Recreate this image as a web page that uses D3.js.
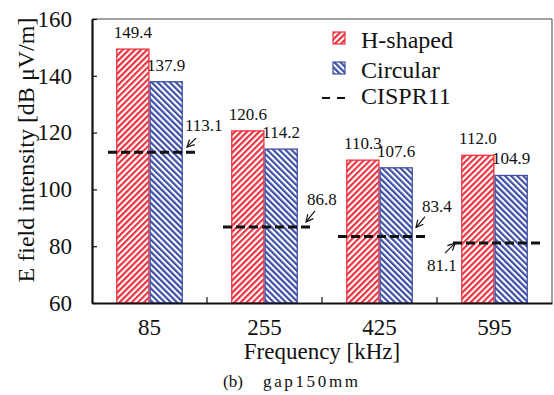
<!DOCTYPE html>
<html>
<head>
<meta charset="utf-8">
<script src="https://cdn.jsdelivr.net/npm/d3@7"></script>
<style>
  body { margin: 0; background: #fff; }
  svg text { font-family: "Liberation Serif", Tinos, "Times New Roman", Times, "DejaVu Serif", serif; fill: #111; }
</style>
</head>
<body>
<div id="chart"></div>
<script>
// --- Data ---
const frequencies = ["85", "255", "425", "595"];
const seriesNames = ["H-shaped", "Circular"];
const hShaped = [149.4, 120.6, 110.3, 112.0];
const circular = [137.9, 114.2, 107.6, 104.9];
const cispr11 = [113.1, 86.8, 83.4, 81.1];
const yTicks = [60, 80, 100, 120, 140, 160];

// --- Layout ---
const W = 554, H = 395;
const plot = { left: 92, right: 552, top: 19, bottom: 303 };
const red = "#ea3340";
const blue = "#3d4ea3";

// where each CISPR value label + arrow sits, relative to the line end it points at
const notes = [
  { end: "x2", hx: -10, hy: -5, tx: -1, ty: -14, lx: -12, ly: -21 },
  { end: "x2", hx: -6, hy: -5, tx: 3, ty: -16, lx: -5, ly: -22 },
  { end: "x2", hx: -11, hy: -9, tx: -2, ty: -20, lx: -5, ly: -25 },
  { end: "x1", hx: 2, hy: 0, tx: -8, ty: 10, lx: -26, ly: 28 }
];

const svg = d3.select("#chart").append("svg")
  .attr("width", W)
  .attr("height", H);

const defs = svg.append("defs");

// diagonal hatch patterns for the two bar series
function hatch(id, color, angle) {
  const p = defs.append("pattern")
    .attr("id", id)
    .attr("patternUnits", "userSpaceOnUse")
    .attr("width", 4.3)
    .attr("height", 10)
    .attr("patternTransform", `rotate(${angle})`);
  p.append("rect").attr("width", 4.3).attr("height", 10).attr("fill", "#fff");
  p.append("rect").attr("width", 2.2).attr("height", 10).attr("fill", color);
}
hatch("hatch-h", red, 45);
hatch("hatch-c", blue, -45);

defs.append("marker")
  .attr("id", "arrow")
  .attr("viewBox", "0 0 10 10")
  .attr("refX", 9).attr("refY", 5)
  .attr("markerWidth", 9).attr("markerHeight", 9)
  .attr("markerUnits", "userSpaceOnUse")
  .attr("orient", "auto")
  .append("path")
  .attr("d", "M1,1 L9,5 L1,9")
  .attr("fill", "none")
  .attr("stroke", "#111")
  .attr("stroke-width", 1.3);

// --- Scales ---
const x = d3.scaleBand().domain(frequencies).range([plot.left, plot.right]);
const xSub = d3.scaleBand().domain(seriesNames).range([0, x.bandwidth()]).paddingOuter(0.725);
const y = d3.scaleLinear().domain([60, 160]).range([plot.bottom, plot.top]);

// --- Bars ---
const rows = frequencies.map((f, i) => ({ f, values: [hShaped[i], circular[i]] }));
const fills = ["url(#hatch-h)", "url(#hatch-c)"];
const strokes = [red, blue];

const groups = svg.append("g").selectAll("g")
  .data(rows)
  .join("g")
  .attr("transform", d => `translate(${x(d.f)},0)`);

groups.selectAll("rect")
  .data(d => d.values.map((v, k) => ({ v, k })))
  .join("rect")
  .attr("x", d => xSub(seriesNames[d.k]) + 0.6)
  .attr("y", d => y(d.v))
  .attr("width", xSub.bandwidth() - 1.2)
  .attr("height", d => y(60) - y(d.v))
  .attr("fill", d => fills[d.k])
  .attr("stroke", d => strokes[d.k])
  .attr("stroke-width", 1.3);

groups.selectAll("text.val")
  .data(d => d.values.map((v, k) => ({ v, k })))
  .join("text")
  .attr("class", "val")
  .attr("x", d => xSub(seriesNames[d.k]) + xSub.bandwidth() / 2)
  .attr("y", d => y(d.v) - 11)
  .attr("text-anchor", "middle")
  .attr("font-size", 17)
  .text(d => d.v.toFixed(1));

// --- CISPR11 limit lines ---
const limits = frequencies.map((f, i) => ({
  v: cispr11[i],
  x1: x(f) + 16,
  x2: x(f) + 105,
  note: notes[i]
}));

svg.append("g").selectAll("line")
  .data(limits)
  .join("line")
  .attr("x1", d => d.x1)
  .attr("x2", d => d.x2)
  .attr("y1", d => y(d.v))
  .attr("y2", d => y(d.v))
  .attr("stroke", "#111")
  .attr("stroke-width", 3)
  .attr("stroke-dasharray", "9,4");

const noteG = svg.append("g");
limits.forEach(d => {
  const ax = d[d.note.end], ay = y(d.v);
  noteG.append("line")
    .attr("x1", ax + d.note.tx).attr("y1", ay + d.note.ty)
    .attr("x2", ax + d.note.hx).attr("y2", ay + d.note.hy)
    .attr("stroke", "#111")
    .attr("stroke-width", 1.2)
    .attr("marker-end", "url(#arrow)");
  noteG.append("text")
    .attr("x", ax + d.note.lx)
    .attr("y", ay + d.note.ly)
    .attr("font-size", 17)
    .text(d.v.toFixed(1));
});

// --- Axes ---
// thin frame on top and right
svg.append("path")
  .attr("d", `M${plot.left},${plot.top}H${plot.right}V${plot.bottom}`)
  .attr("fill", "none")
  .attr("stroke", "#444")
  .attr("stroke-width", 1);

const yAxis = svg.append("g")
  .attr("transform", `translate(${plot.left},0)`)
  .call(d3.axisLeft(y).tickValues(yTicks).tickSizeInner(-5).tickSizeOuter(0).tickPadding(20));
yAxis.attr("font-family", null);
yAxis.select(".domain").attr("stroke", "#111").attr("stroke-width", 2.2);
yAxis.selectAll(".tick line").attr("stroke", "#111").attr("stroke-width", 1.2);
yAxis.selectAll(".tick text")
  .attr("font-size", 23)
  .attr("fill", "#111");

const xAxis = svg.append("g")
  .attr("transform", `translate(0,${plot.bottom})`)
  .call(d3.axisBottom(x).tickSize(0).tickPadding(16));
xAxis.attr("font-family", null);
xAxis.select(".domain").attr("stroke", "#111").attr("stroke-width", 2.2);
xAxis.selectAll(".tick text")
  .attr("font-size", 23)
  .attr("fill", "#111");

// category separators on the bottom axis
xAxis.selectAll("line.sep")
  .data(frequencies.slice(1))
  .join("line")
  .attr("class", "sep")
  .attr("x1", d => x(d)).attr("x2", d => x(d))
  .attr("y1", 0).attr("y2", -6)
  .attr("stroke", "#111")
  .attr("stroke-width", 1.2);

// axis titles
svg.append("text")
  .attr("transform", `translate(34,150) rotate(-90)`)
  .attr("text-anchor", "middle")
  .attr("font-size", 24)
  .text("E field intensity [dB μV/m]");

svg.append("text")
  .attr("x", (plot.left + plot.right) / 2)
  .attr("y", 359)
  .attr("text-anchor", "middle")
  .attr("font-size", 23)
  .text("Frequency [kHz]");

svg.append("text")
  .attr("x", 223)
  .attr("y", 387)
  .attr("font-size", 17)
  .text("(b)");
svg.append("text")
  .attr("x", 263)
  .attr("y", 387)
  .attr("font-size", 17)
  .attr("textLength", 95)
  .text("gap150mm");

// --- Legend ---
const legend = svg.append("g").attr("transform", "translate(333,32)");
seriesNames.forEach((name, i) => {
  legend.append("rect")
    .attr("x", 0).attr("y", i * 30)
    .attr("width", 12).attr("height", 12)
    .attr("fill", fills[i])
    .attr("stroke", strokes[i])
    .attr("stroke-width", 1.2);
  legend.append("text")
    .attr("x", 28).attr("y", i * 30 + 16)
    .attr("font-size", 24)
    .text(name);
});
legend.append("line")
  .attr("x1", -11).attr("x2", 12)
  .attr("y1", 66).attr("y2", 66)
  .attr("stroke", "#111")
  .attr("stroke-width", 2)
  .attr("stroke-dasharray", "8,7");
legend.append("text")
  .attr("x", 28).attr("y", 72)
  .attr("font-size", 24)
  .text("CISPR11");
</script>
</body>
</html>
